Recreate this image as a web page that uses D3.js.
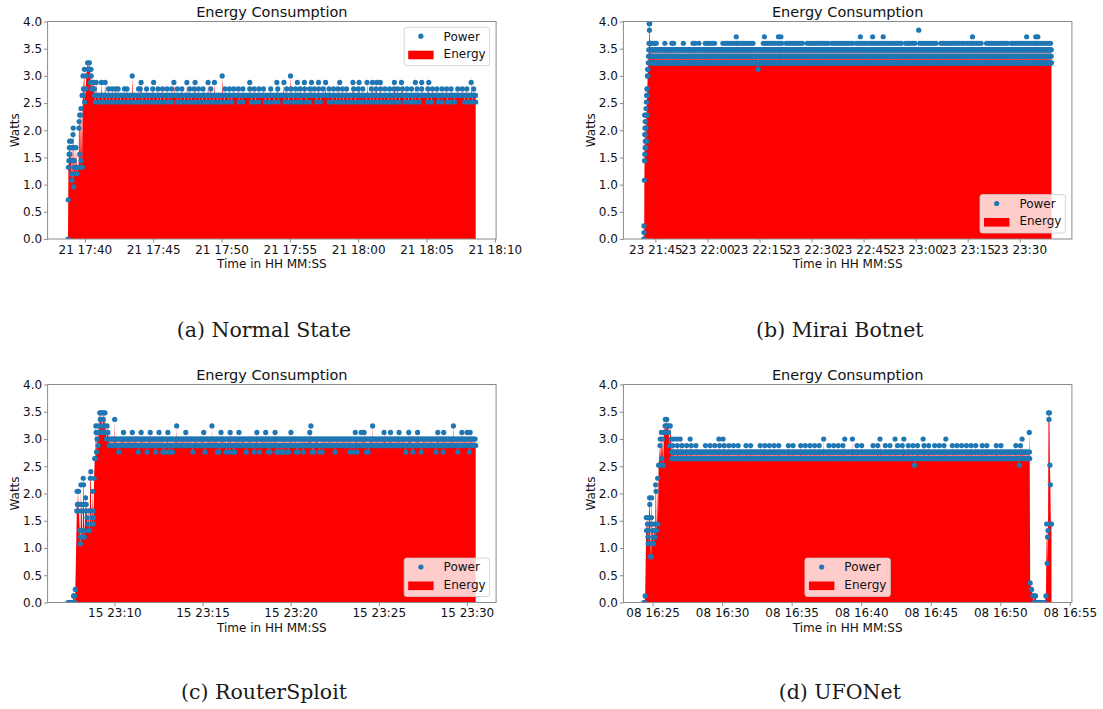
<!DOCTYPE html>
<html><head><meta charset="utf-8">
<script src="https://cdn.jsdelivr.net/npm/d3@7"></script>
<style>
body{margin:0;background:#fff;}
</style>
</head><body>
<svg id="chart" width="1103" height="709" font-family="DejaVu Sans, sans-serif"></svg>
<script>
// ---------------- DATA ----------------
const yTicks = [0, 0.5, 1.0, 1.5, 2.0, 2.5, 3.0, 3.5, 4.0];
const seriesNames = ["Power", "Energy"];
const chartTitle = "Energy Consumption";
const xLabel = "Time in HH MM:SS";
const yLabel = "Watts";
const captions = ["(a) Normal State", "(b) Mirai Botnet", "(c) RouterSploit", "(d) UFONet"];

// (a) Normal State  — samples: [seconds from start, watts]; bands: [from, to, watts, every s]
const normalStart = "2021-03-21T17:38:46";
const normalDay = "2021-03-21";
const normalTicks = ["17:40","17:45","17:50","17:55","18:00","18:05","18:10"];
const normalRamp = [[0,0],[1,0.72],[2,1.32],[4,1.44],[5,1.56],[6,1.68],[7,1.8],[8,1.56],[9,1.44],[12,1.68],[14,1.44],[15,1.8],[16,1.2],[18,1.08],[19,1.2],[20,1.44],[21,1.68],[22,1.92],[23,2.04],[25,0.96],[26,1.32],[27,1.68],[28,1.44],[32,1.2],[33,1.32],[35,1.68],[40,1.2],[42,1.32],[47,1.32],[48,2.04],[49,2.16],[51,2.28],[52,1.56],[53,1.32],[56,2.28],[57,2.4],[58,1.44],[62,2.64],[63,1.32],[66,3.0],[67,2.64],[68,2.76],[72,3.12],[73,2.52],[78,2.76],[80,3.0],[86,3.24],[88,3.12],[94,3.24],[96,3.12],[101,3.12],[102,3.0],[103,2.76],[108,2.88],[110,2.76],[116,2.76]];
const normalBands = [[117,1792,2.64,4],
  [120,465,2.52,16],[480,728,2.52,16],[751,782,2.52,16],[805,844,2.52,16],[867,890,2.52,16],[906,937,2.52,16],[952,976,2.52,16],[991,1030,2.52,16],[1045,1076,2.52,16],[1092,1123,2.52,16],[1146,1247,2.52,16],[1262,1464,2.52,16],[1479,1556,2.52,16],[1580,1611,2.52,16],[1626,1657,2.52,16],[1665,1711,2.52,16],[1742,1792,2.52,16],
  [395,457,2.76,20],[480,511,2.76,20],[534,558,2.76,20],[573,612,2.76,20],[627,646,2.76,20],[689,712,2.76,20],[728,782,2.76,20],[798,875,2.76,20],[890,906,2.76,20],[921,937,2.76,20],[960,983,2.76,20],[999,1045,2.76,20],[1061,1092,2.76,20],[1100,1131,2.76,20],[1146,1169,2.76,20],[1185,1208,2.76,20],[1223,1239,2.76,20],[1254,1309,2.76,20],[1332,1433,2.76,20],[1448,1510,2.76,20],[1533,1556,2.76,20],[1580,1626,2.76,20],[1642,1696,2.76,20],[1711,1758,2.76,20],[1781,1792,2.76,20]];
const normalPeaks = [[98,2.88],[113,2.88],[124,2.88],[147,2.88],[163,2.88],[321,2.88],[376,2.88],[465,2.88],[522,2.88],[558,2.88],[615,2.88],[643,2.88],[798,2.88],[917,2.88],[948,2.88],[1007,2.88],[1038,2.88],[1069,2.88],[1100,2.88],[1131,2.88],[1193,2.88],[1251,2.88],[1278,2.88],[1313,2.88],[1337,2.88],[1355,2.88],[1371,2.88],[1433,2.88],[1464,2.88],[1525,2.88],[1553,2.88],[1584,2.88],[1770,2.88],
  [282,3.0],[677,3.0],[977,3.0],
  [178,2.76],[194,2.76],[209,2.76],[220,2.76],[248,2.76],[259,2.76],[310,2.76],[317,2.76],[345,2.76],[372,2.76]];

// (b) Mirai Botnet
const miraiStart = "2021-03-23T21:41:40";
const miraiDay = "2021-03-23";
const miraiTicks = ["21:45","22:00","22:15","22:30","22:45","23:00","23:15","23:30"];
const miraiRamp = [[0,0],[2,0.24],[4,0.12],[7,0],[10,1.08],[13,1.44],[15,2.28],[17,1.92],[19,1.56],[21,2.04],[23,1.68],[25,2.16],[27,1.8],[29,2.28],[31,1.92],[33,2.04],[35,1.68],[38,2.4],[41,2.04],[44,2.52],[47,1.8],[50,2.64],[53,2.28],[56,2.76],[59,2.64],[62,2.76],[65,3.0],[68,3.12],[71,3.0],[74,3.12],[78,3.24],[82,3.36],[86,3.48],[90,3.6],[94,3.96],[98,3.84],[102,3.96],[106,3.6],[110,3.48],[114,3.6],[118,3.36]];
const miraiBands = [[120,7050,3.24,10],[123,7050,3.36,10],[126,7050,3.48,10],
  [1064,1246,3.6,40],[1368,1915,3.6,40],[2067,2401,3.6,40],[2462,2766,3.6,40],[2827,3192,3.6,40],[3252,3617,3.6,40],[3678,3860,3.6,40],[3891,4103,3.6,40],[4134,4468,3.6,40],[4529,4711,3.6,40],[4772,5076,3.6,40],[5137,5562,3.6,40],[5593,5866,3.6,40],[5927,6292,3.6,40],[6353,7040,3.6,40]];
const miraiPeaks = [[130,3.6],[160,3.6],[190,3.6],[215,3.6],[365,3.6],[486,3.6],[517,3.6],[684,3.6],[851,3.6],[887,3.6],[954,3.6],
  [1599,3.72],[2085,3.72],[2328,3.72],[2371,3.72],[3745,3.72],[3957,3.72],[4140,3.72],[5684,3.72],[6620,3.72],[6778,3.72],[6814,3.72],
  [4754,3.84],[1976,3.12]];

// (c) RouterSploit
const routerStart = "2021-03-15T23:07:22";
const routerDay = "2021-03-15";
const routerTicks = ["23:10","23:15","23:20","23:25","23:30"];
const routerRamp = [[0,0],[4,0],[8,0],[12,0],[16,0],[19,0.12],[22,0.12],[24,0],[25,0.24],[30,1.68],[31,2.04],[32,1.8],[35,1.68],[36,2.04],[37,1.8],[40,1.32],[42,1.08],[43,1.2],[44,2.16],[45,1.8],[47,1.68],[48,1.32],[50,1.2],[52,2.28],[53,2.16],[54,1.8],[56,1.2],[57,1.32],[60,1.92],[61,1.68],[62,1.8],[65,1.56],[67,1.44],[70,1.68],[71,1.44],[73,1.32],[76,2.28],[78,2.4],[79,1.68],[80,1.44],[82,1.56],[84,2.04],[85,1.68],[86,1.44],[87,1.56],[89,2.28],[91,2.64],[93,2.64],[95,3.24],[96,3.12],[97,2.76],[99,3.0],[101,3.12],[103,2.88],[104,3.24],[106,3.12],[108,3.48],[110,3.36],[112,3.48],[114,3.24],[116,3.48],[118,3.12],[120,3.36],[122,3.48],[124,3.24],[126,3.48],[128,3.12],[131,3.0],[133,3.24],[136,3.12],[139,3.0]];
const routerBands = [[140,1389,2.88,4],[142,1389,3.0,4]];
const routerPeaks = [[159,3.36],
  [189,3.12],[219,3.12],[249,3.12],[280,3.12],[310,3.12],[340,3.12],[401,3.12],[462,3.12],[521,3.12],[552,3.12],[582,3.12],[643,3.12],[673,3.12],[705,3.12],[759,3.12],[823,3.12],[978,3.12],[998,3.12],[1008,3.12],[1076,3.12],[1098,3.12],[1127,3.12],[1160,3.12],[1190,3.12],[1259,3.12],[1279,3.12],[1341,3.12],[1359,3.12],[1369,3.12],
  [370,3.24],[490,3.24],[827,3.24],[1037,3.24],[1312,3.24],
  [173,2.76],[239,2.76],[269,2.76],[299,2.76],[323,2.76],[329,2.76],[341,2.76],[347,2.76],[356,2.76],[425,2.76],[466,2.76],[508,2.76],[514,2.76],[538,2.76],[550,2.76],[562,2.76],[568,2.76],[607,2.76],[634,2.76],[652,2.76],[682,2.76],[688,2.76],[711,2.76],[717,2.76],[726,2.76],[732,2.76],[744,2.76],[751,2.76],[777,2.76],[783,2.76],[801,2.76],[831,2.76],[837,2.76],[857,2.76],[865,2.76],[909,2.76],[960,2.76],[972,2.76],[984,2.76],[1016,2.76],[1022,2.76],[1150,2.76],[1174,2.76],[1202,2.76],[1253,2.76],[1277,2.76],[1327,2.76],[1366,2.76]];

// (d) UFONet
const ufoStart = "2021-03-08T16:24:22";
const ufoDay = "2021-03-08";
const ufoTicks = ["16:25","16:30","16:35","16:40","16:45","16:50","16:55"];
const ufoRamp = [[0,0],[3,0],[6,0.12],[11,1.56],[12,1.32],[15,1.56],[16,1.44],[18,1.2],[19,1.08],[20,1.32],[22,1.56],[25,1.92],[26,1.8],[28,1.44],[29,0.84],[30,1.08],[32,0.84],[33,1.56],[34,1.92],[36,1.44],[38,1.32],[40,1.2],[42,1.08],[44,1.32],[45,1.2],[47,1.44],[49,1.2],[51,2.16],[53,2.04],[55,1.32],[57,1.44],[60,2.28],[61,1.44],[64,2.52],[70,2.88],[71,3.0],[72,2.52],[76,3.12],[78,2.64],[80,3.0],[84,2.52],[86,3.12],[92,3.24],[93,3.36],[95,3.12],[99,3.36],[101,3.24],[105,3.24],[107,3.12],[112,2.88],[114,3.24],[118,3.0],[120,2.76]];
const ufoBands = [[121,1661,2.64,4],[123,1661,2.76,4],
  [125,193,2.88,20],[205,236,2.88,20],[266,312,2.88,20],[327,418,2.88,20],[441,479,2.88,20],[502,601,2.88,20],[624,662,2.88,20],[677,768,2.88,20],[799,859,2.88,20],[920,958,2.88,20],[989,1019,2.88,20],[1042,1072,2.88,20],[1095,1118,2.88,20],[1141,1194,2.88,20],[1209,1232,2.88,20],[1255,1300,2.88,20],[1331,1376,2.88,20],[1392,1445,2.88,20],[1460,1498,2.88,20],[1521,1559,2.88,20],[1605,1643,2.88,20]];
const ufoPeaks = [[129,3.0],[143,3.0],[157,3.0],[200,3.0],[324,3.0],[342,3.0],[776,3.0],[867,3.0],[900,3.0],[1019,3.0],[1084,3.0],[1122,3.0],[1205,3.0],[1303,3.0],[1632,3.0],
  [1168,2.52],[1620,2.52],
  [1663,3.12],[1664,2.76],[1665,2.64],[1667,0.36],[1673,0.24],[1679,0.12],[1683,0],[1686,0.12],[1690,0.12],[1694,0],[1700,0],[1706,0],[1712,0],[1718,0],[1724,0],[1730,0],[1735,0.12],[1738,1.44],[1740,0.72],[1742,1.2],[1744,1.32],[1746,3.48],[1748,3.36],[1750,3.48],[1752,2.52],[1754,2.16],[1756,1.44],[1759,1.44]];

// ---------------- DRAW ----------------
const svg = d3.select("#chart");
const W = 448.5;
const RED = "#ff0000", BLUE = "#1f77b4", SPINE = "#8a8a8a";

const panels = [
  {start: normalStart, day: normalDay, ticks: normalTicks, ramp: normalRamp, bands: normalBands, peaks: normalPeaks, left: 47.6, top: 21.5, H: 217.5, legend: "upper right", caption: captions[0], capX: 264, capY: 336.7},
  {start: miraiStart, day: miraiDay, ticks: miraiTicks, ramp: miraiRamp, bands: miraiBands, peaks: miraiPeaks, left: 623.4, top: 21.5, H: 217.5, legend: "lower right", caption: captions[1], capX: 839.8, capY: 336.7},
  {start: routerStart, day: routerDay, ticks: routerTicks, ramp: routerRamp, bands: routerBands, peaks: routerPeaks, left: 47.6, top: 384.5, H: 218, legend: "lower right", caption: captions[2], capX: 264, capY: 699.3},
  {start: ufoStart, day: ufoDay, ticks: ufoTicks, ramp: ufoRamp, bands: ufoBands, peaks: ufoPeaks, left: 623.4, top: 384.5, H: 218, legend: "lower center", caption: captions[3], capX: 839.8, capY: 699.3}
];

function expand(ramp, bands, peaks) {
  const pts = ramp.map(d => ({t: d[0], v: d[1]}));
  bands.forEach(([from, to, v, every]) => { for (let t = from; t <= to; t += every) pts.push({t, v}); });
  peaks.forEach(d => pts.push({t: d[0], v: d[1]}));
  pts.sort((a, b) => a.t - b.t);
  return pts;
}

function drawLegend(g, bx, by) {
  g.append("rect").attr("x", bx).attr("y", by).attr("width", 85.4).attr("height", 38.4)
    .attr("rx", 2.5).attr("fill", "#fff").attr("fill-opacity", 0.8)
    .attr("stroke", "#cccccc").attr("stroke-opacity", 0.8).attr("stroke-width", 1);
  g.append("circle").attr("cx", bx + 16.7).attr("cy", by + 8.9).attr("r", 2.6).attr("fill", BLUE);
  g.append("text").attr("x", bx + 39.4).attr("y", by + 13.2).attr("font-size", 12).attr("fill", "#111").text(seriesNames[0]);
  g.append("rect").attr("x", bx + 4).attr("y", by + 23.4).attr("width", 25.4).attr("height", 8.6).attr("fill", RED);
  g.append("text").attr("x", bx + 39.4).attr("y", by + 30.6).attr("font-size", 12).attr("fill", "#111").text(seriesNames[1]);
}

panels.forEach(p => {
  const H = p.H;
  const pts = expand(p.ramp, p.bands, p.peaks);
  const t0 = new Date(p.start);
  const data = pts.map(d => ({date: new Date(t0.getTime() + d.t * 1000), v: d.v}));
  const first = +data[0].date, last = +data[data.length - 1].date;
  const span = last - first;
  const x = d3.scaleTime().domain([new Date(first - 0.05 * span), new Date(last + 0.05 * span)]).range([p.left, p.left + W]);
  const y = d3.scaleLinear().domain([0, 4]).range([p.top + H, p.top]);
  const g = svg.append("g");

  const clipId = "clip" + Math.round(p.left) + "_" + Math.round(p.top);
  g.append("clipPath").attr("id", clipId).append("rect").attr("x", p.left).attr("y", p.top).attr("width", W).attr("height", H);
  const plot = g.append("g").attr("clip-path", `url(#${clipId})`);

  const area = d3.area().x(d => x(d.date)).y0(y(0)).y1(d => y(d.v));
  plot.append("path").datum(data).attr("d", area).attr("fill", RED).attr("stroke", "none");
  plot.append("g").selectAll("circle").data(data).join("circle")
    .attr("cx", d => x(d.date)).attr("cy", d => y(d.v)).attr("r", 2.6).attr("fill", BLUE);

  // axes
  const tickDates = p.ticks.map(s => new Date(`${p.day}T${s}:00`));
  const xAxis = d3.axisBottom(x).tickValues(tickDates).tickFormat(d3.timeFormat("%d %H:%M"))
    .tickSize(3.5).tickSizeOuter(0).tickPadding(2.5);
  const gx = g.append("g").attr("transform", `translate(0,${p.top + H})`).call(xAxis);
  const yAxis = d3.axisLeft(y).tickValues(yTicks).tickFormat(d3.format(".1f"))
    .tickSize(3.5).tickSizeOuter(0).tickPadding(2);
  const gy = g.append("g").attr("transform", `translate(${p.left},0)`).call(yAxis);
  [gx, gy].forEach(a => {
    a.attr("font-family", null);
    a.select(".domain").remove();
    a.selectAll("line").attr("stroke", SPINE);
    a.selectAll("text").attr("font-size", 12).attr("fill", "#111");
  });
  g.append("rect").attr("x", p.left).attr("y", p.top).attr("width", W).attr("height", H)
    .attr("fill", "none").attr("stroke", SPINE).attr("stroke-width", 1);

  // labels
  g.append("text").attr("x", p.left + W / 2).attr("y", p.top - 4.4).attr("text-anchor", "middle")
    .attr("font-size", 14.5).attr("fill", "#111").text(chartTitle);
  g.append("text").attr("x", p.left + W / 2).attr("y", p.top + H + 29.3).attr("text-anchor", "middle")
    .attr("font-size", 12).attr("fill", "#111").text(xLabel);
  g.append("text").attr("transform", `translate(${p.left - 28.5},${p.top + H / 2}) rotate(-90)`)
    .attr("text-anchor", "middle").attr("font-size", 12).attr("fill", "#111").text(yLabel);

  // legend
  let bx, by;
  if (p.legend === "upper right") { bx = p.left + W - 6.5 - 85.4; by = p.top + 5.8; }
  else if (p.legend === "lower right") { bx = p.left + W - 6.5 - 85.4; by = p.top + H - 6 - 38.4; }
  else { bx = p.left + W / 2 - 42.7; by = p.top + H - 6 - 38.4; }
  drawLegend(g, bx, by);

  // caption
  svg.append("text").attr("x", p.capX).attr("y", p.capY).attr("text-anchor", "middle")
    .attr("font-family", "DejaVu Serif, serif").attr("font-size", 20.5).attr("fill", "#1a1a1a").text(p.caption);
});
</script>
</body></html>
